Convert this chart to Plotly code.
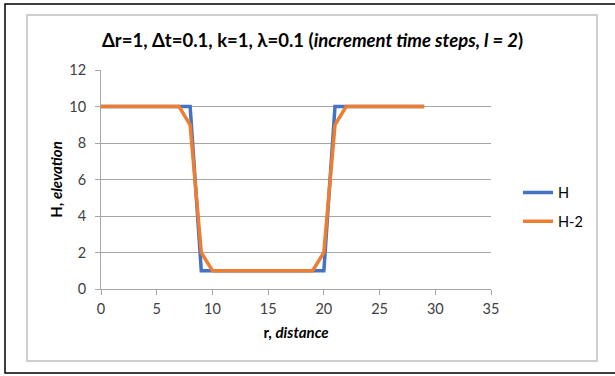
import plotly.graph_objects as go

r = list(range(0, 30))
H = [10]*9 + [1]*12 + [10]*9
H2 = [10]*8 + [9, 2] + [1]*10 + [2, 9] + [10]*8

y_ticks = [0, 2, 4, 6, 8, 10, 12]
x_ticks = [0, 5, 10, 15, 20, 25, 30, 35]

FONT = "Lato"
L, R, T, B = 101, 124, 70, 87
W, Hh = 615, 376
pw = W - L - R
ph = Hh - T - B

def px(x):
    return (x - L) / pw

def py(y):
    return (Hh - B - y) / ph

fig = go.Figure()
fig.add_trace(go.Scatter(x=r, y=H, mode="lines", name="H",
                         line=dict(color="#4472C4", width=3.5), legendgroup="a"))
fig.add_trace(go.Scatter(x=r, y=H2, mode="lines", name="H-2",
                         line=dict(color="#ED7D31", width=3.5), legendgroup="b"))

outer_path = "M {x1},{y0} L {x0},{y0} L {x0},{y1} L {x1},{y1}".format(
    x0=px(5), x1=px(640), y0=py(4), y1=py(373))

fig.update_layout(
    width=W, height=Hh,
    margin=dict(l=L, r=R, t=T, b=B),
    paper_bgcolor="white", plot_bgcolor="white",
    font=dict(family=FONT, size=14.5, color="#404040"),
    title=dict(text="<b>Δr=1, Δt=0.1, k=1, λ=0.1 (<i>increment time steps, l = 2</i>)</b>",
               xref="container", yref="container",
               x=312.5 / W, xanchor="center", y=1 - 41 / Hh, yanchor="middle",
               font=dict(family=FONT, size=18.5, color="#000000")),
    showlegend=True,
    legend=dict(x=px(518), xanchor="left", y=py(207), yanchor="middle",
                traceorder="grouped", tracegroupgap=7,
                font=dict(family=FONT, size=14.5, color="#000000"),
                itemwidth=30, bgcolor="rgba(0,0,0,0)"),
    xaxis=dict(range=[0, 35], tickvals=x_ticks, showgrid=False,
               showline=True, linecolor="#A6A6A6", linewidth=1,
               ticks="outside", ticklen=5, tickcolor="#A6A6A6",
               ticklabelstandoff=2,
               zeroline=False,
               title=dict(text="<b>r, <i>distance</i></b>", standoff=11,
                          font=dict(family=FONT, size=15, color="#000000"))),
    yaxis=dict(range=[0, 12], tickvals=y_ticks, showgrid=True,
               gridcolor="#A6A6A6", gridwidth=1,
               showline=True, linecolor="#A6A6A6", linewidth=1,
               ticks="outside", ticklen=5, tickcolor="#A6A6A6",
               ticklabelstandoff=6,
               zeroline=False,
               title=dict(text="<b>H, <i>elevation</i></b>", standoff=3,
                          font=dict(family=FONT, size=15, color="#000000"))),
    shapes=[
        dict(type="path", xref="paper", yref="paper", path=outer_path,
             line=dict(color="#000000", width=1.5), layer="below"),
        dict(type="rect", xref="paper", yref="paper",
             x0=px(27), x1=px(597), y0=py(361), y1=py(15),
             line=dict(color="#BFBFBF", width=1.5), layer="below"),
    ],
)

fig.write_html("out.html",
               config={"displayModeBar": False},
               post_script="document.body.style.margin='0';document.body.style.overflow='hidden';")
